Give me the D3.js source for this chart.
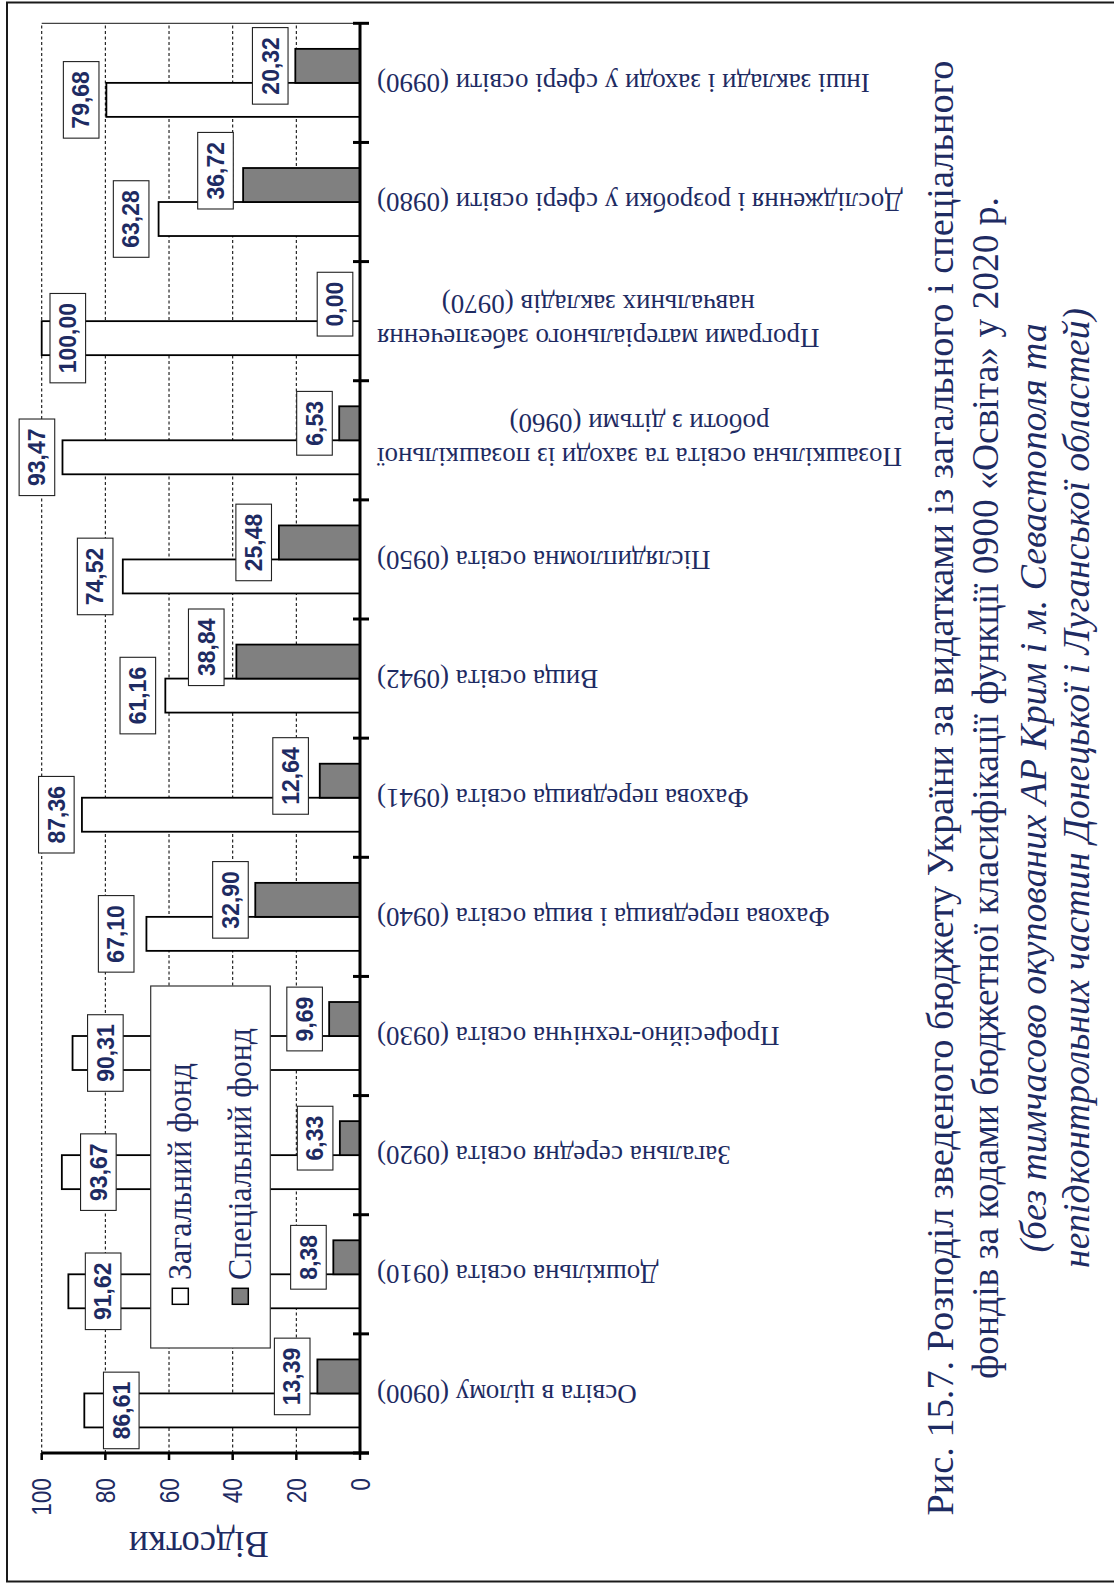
<!DOCTYPE html>
<html><head><meta charset="utf-8">
<script src="https://cdn.jsdelivr.net/npm/d3@7"></script>
<style>body{margin:0;background:#fff}svg{display:block}</style>
</head><body>
<svg id="c" width="1114" height="1583"></svg>
<script>
// ---------- data ----------
const categories = ["0900","0910","0920","0930","0940","0941","0942","0950","0960","0970","0980","0990"];
const categoryLabels = [
  ["Освіта в цілому (0900)"],
  ["Дошкільна освіта (0910)"],
  ["Загальна середня освіта (0920)"],
  ["Професійно-технічна освіта (0930)"],
  ["Фахова передвища і вища освіта (0940)"],
  ["Фахова передвища освіта (0941)"],
  ["Вища освіта (0942)"],
  ["Післядипломна освіта (0950)"],
  ["Позашкільна освіта та заходи із позашкільної", "роботи з дітьми (0960)"],
  ["Програми матеріального забезпечення", "навчальних закладів (0970)"],
  ["Дослідження і розробки у сфері освіти (0980)"],
  ["Інші заклади і заходи у сфері освіти (0990)"]
];
const generalFund = [86.61, 91.62, 93.67, 90.31, 67.10, 87.36, 61.16, 74.52, 93.47, 100.00, 63.28, 79.68];
const specialFund = [13.39, 8.38, 6.33, 9.69, 32.90, 12.64, 38.84, 25.48, 6.53, 0.00, 36.72, 20.32];
// where each value label box sits (value-axis units)
const generalLabelAt = [75.0, 80.7, 82.2, 80.0, 76.6, 95.4, 69.8, 83.2, 101.5, 91.8, 71.9, 87.6];
const specialLabelAt = [21.3, 16.2, 14.1, 17.4, 40.7, 21.8, 48.3, 33.4, 14.3, 7.85, 45.4, 28.2];
const specialLabelShift = [0, 0, 0, 0, 0, 0.04, 0.12, 0, 0, 0, 0.12, 0]; // fraction of band
const valueTicks = [0, 20, 40, 60, 80, 100];
const seriesNames = ["Загальний фонд", "Спеціальний фонд"];
const axisTitle = "Відсотки";
const captionLines = [
  "Рис. 15.7. Розподіл зведеного бюджету України за видатками із загального і спеціального",
  "фондів за кодами бюджетної класифікації функції 0900 «Освіта» у 2020 р.",
  "(без тимчасово окупованих АР Крим і м. Севастополя та",
  "непідконтрольних частин Донецької і Луганської областей)"
];

// ---------- layout ----------
const PW = 1583; // landscape width (page height)
const navy = "#1e2b62";
const sans = "'Liberation Sans', Arial, sans-serif";
const serif = "'Liberation Serif', 'Times New Roman', serif";
const fmt = v => d3.format(".2f")(v).replace(".", ",");

const svg = d3.select("#c");
svg.append("rect").attr("x", 7).attr("y", 2.5).attr("width", 1130).attr("height", 1579)
  .attr("fill", "none").attr("stroke", "#1a1a1a").attr("stroke-width", 2);

const g = svg.append("g").attr("transform", `translate(0,${PW}) rotate(-90)`);

const x = d3.scaleBand().domain(categories).range([130, 1559.7]);
const sub = d3.scaleBand().domain(["g", "s"]).range([0, x.bandwidth()]).paddingInner(0).paddingOuter(0.752);
const y = d3.scaleLinear().domain([0, 100]).range([360, 41.7]);
const [x0, x1] = x.range();

// plot border (right edge in landscape)
g.append("line").attr("x1", x1).attr("x2", x1).attr("y1", y(100)).attr("y2", y(0))
  .attr("stroke", "#444").attr("stroke-width", 1.2);

// gridlines
g.append("g").selectAll("line").data(valueTicks.filter(v => v > 0)).join("line")
  .attr("x1", x0).attr("x2", x1).attr("y1", d => y(d)).attr("y2", d => y(d))
  .attr("stroke", "#111").attr("stroke-width", 1.1).attr("stroke-dasharray", "3,2.5");

// bars
const rows = categories.map((c, i) => ({c, i, g: generalFund[i], s: specialFund[i]}));
const bars = g.append("g");
bars.selectAll("rect.gen").data(rows).join("rect").attr("class", "gen")
  .attr("x", d => x(d.c) + sub("g")).attr("width", sub.bandwidth())
  .attr("y", d => y(d.g)).attr("height", d => y(0) - y(d.g))
  .attr("fill", "#fff").attr("stroke", "#000").attr("stroke-width", 1.8);
bars.selectAll("rect.spec").data(rows).join("rect").attr("class", "spec")
  .attr("x", d => x(d.c) + sub("s")).attr("width", sub.bandwidth())
  .attr("y", d => y(d.s)).attr("height", d => y(0) - y(d.s))
  .attr("fill", "#808080").attr("stroke", "#000").attr("stroke-width", 1.8);

// value axis (left in landscape)
const yAxisG = g.append("g");
yAxisG.append("line").attr("x1", x0).attr("x2", x0).attr("y1", y(100)).attr("y2", y(0) + 9)
  .attr("stroke", "#000").attr("stroke-width", 3);
yAxisG.selectAll("line.t").data(valueTicks).join("line").attr("class", "t")
  .attr("x1", x0).attr("x2", x0 - 7).attr("y1", d => y(d)).attr("y2", d => y(d))
  .attr("stroke", "#000").attr("stroke-width", 2.5);
const tickTexts = yAxisG.selectAll("text").data(valueTicks).join("text")
  .attr("x", x0 - 25).attr("y", d => y(d)).attr("dy", "0.36em")
  .attr("text-anchor", "end").attr("font-family", sans).attr("font-size", 27)
  .attr("fill", navy).text(d => d);
tickTexts.each(function() {
  const L = this.getComputedTextLength();
  d3.select(this).attr("textLength", L * 0.84).attr("lengthAdjust", "spacingAndGlyphs");
});

// axis title
g.append("text").attr("transform", `translate(38,${(y(0) + y(100)) / 2 - 2}) rotate(-90)`)
  .attr("text-anchor", "middle").attr("dy", "0.35em")
  .attr("font-family", serif).attr("font-size", 38).attr("fill", navy)
  .attr("textLength", 140).attr("lengthAdjust", "spacingAndGlyphs").text(axisTitle);

// category axis (bottom in landscape)
const xAxisG = g.append("g");
xAxisG.append("line").attr("x1", x0).attr("x2", x1).attr("y1", y(0)).attr("y2", y(0))
  .attr("stroke", "#000").attr("stroke-width", 3);
const bounds = categories.map(c => x(c)).concat([x1]);
xAxisG.selectAll("line.t").data(bounds).join("line").attr("class", "t")
  .attr("x1", d => d).attr("x2", d => d).attr("y1", y(0) - 7).attr("y2", y(0) + 9)
  .attr("stroke", "#000").attr("stroke-width", 3);

// category labels (rotated)
const labEnd = y(0) + 17;
categories.forEach((c, i) => {
  const lines = categoryLabels[i];
  const t = xAxisG.append("text").attr("font-family", serif).attr("font-size", 27).attr("fill", navy)
    .attr("text-anchor", "middle");
  const lh = 34;
  lines.forEach((ln, k) => {
    t.append("tspan").attr("x", 0).attr("y", (k - (lines.length - 1) / 2) * lh).attr("dy", "0.33em").text(ln);
  });
  let maxW = 0;
  t.selectAll("tspan").each(function() { maxW = Math.max(maxW, this.getComputedTextLength()); });
  const cx = x(c) + x.bandwidth() / 2;
  t.attr("transform", `translate(${cx},${labEnd + maxW / 2}) rotate(-90)`);
});

// value labels
const labelLayer = g.append("g");
function addLabel(cx, cy, txt) {
  const grp = labelLayer.append("g").attr("transform", `translate(${cx},${cy})`);
  const rect = grp.append("rect");
  const t = grp.append("text").attr("text-anchor", "middle").attr("dy", "0.36em")
    .attr("font-family", sans).attr("font-weight", "bold").attr("font-size", 23)
    .attr("fill", navy).text(txt);
  const L = t.node().getComputedTextLength();
  const w = L + 19, h = 35.6;
  rect.attr("x", -w / 2).attr("y", -h / 2).attr("width", w).attr("height", h)
    .attr("fill", "#fff").attr("stroke", "#222").attr("stroke-width", 1.1);
}

// legend (drawn over bars)
const leg = g.append("g");
leg.append("rect").attr("x", 235).attr("y", 150.7).attr("width", 362).attr("height", 119.6)
  .attr("fill", "#fff").attr("stroke", "#333").attr("stroke-width", 1.2);
const legFill = ["#fff", "#808080"];
const legY = [180.3, 240.3];
const legLen = [217, 252];
seriesNames.forEach((s, k) => {
  leg.append("rect").attr("x", 278.7).attr("y", legY[k] - 8).attr("width", 16).attr("height", 16)
    .attr("fill", legFill[k]).attr("stroke", "#000").attr("stroke-width", 1.5);
  leg.append("text").attr("x", 303).attr("y", legY[k]).attr("dy", "0.33em")
    .attr("font-family", serif).attr("font-size", 33).attr("fill", navy)
    .attr("textLength", legLen[k]).attr("lengthAdjust", "spacingAndGlyphs").text(s);
});

rows.forEach(d => {
  addLabel(x(d.c) + sub("g") + sub.bandwidth() / 2, y(generalLabelAt[d.i]), fmt(d.g));
  addLabel(x(d.c) + sub("s") + sub.bandwidth() / 2 + specialLabelShift[d.i] * x.bandwidth(),
           y(specialLabelAt[d.i]), fmt(d.s));
});

// caption
const capY = [953, 998, 1046, 1089];
const capLen = [1455, 1182, 929, 960];
captionLines.forEach((ln, k) => {
  g.append("text").attr("x", PW - 788).attr("y", capY[k]).attr("text-anchor", "middle")
    .attr("font-family", serif).attr("font-size", 37).attr("fill", navy)
    .attr("font-style", k >= 2 ? "italic" : "normal")
    .attr("textLength", capLen[k]).attr("lengthAdjust", "spacingAndGlyphs").text(ln);
});
</script>
</body></html>
